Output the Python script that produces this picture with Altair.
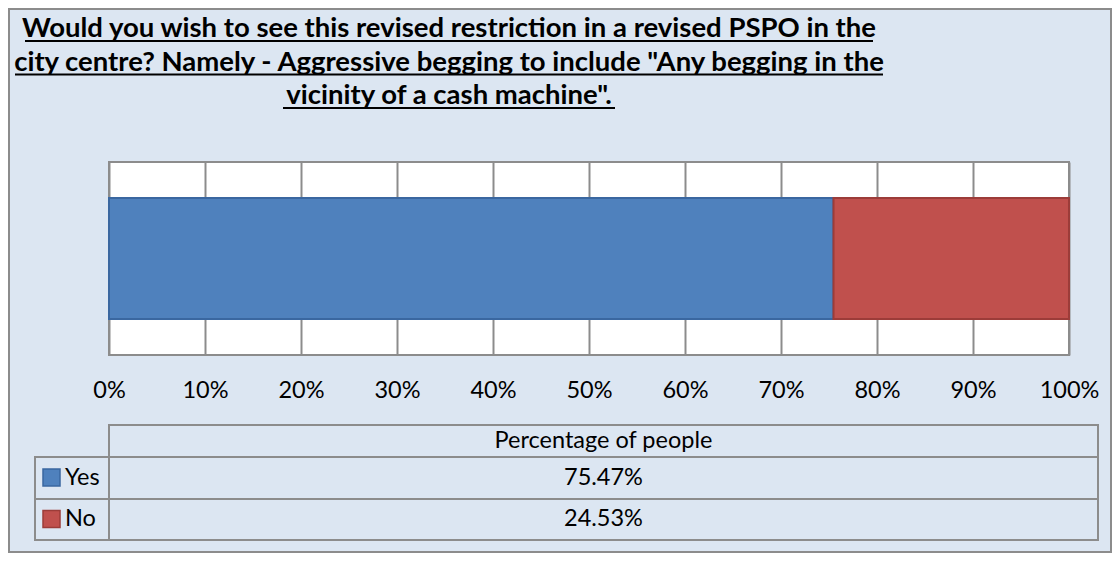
import altair as alt
import pandas as pd

# ---------------- data ----------------
title_lines = [
    "Would you wish to see this revised restriction in a revised PSPO in the",
    'city centre? Namely - Aggressive begging to include "Any begging in the',
    'vicinity of a cash machine".',
]
categories = ["Yes", "No"]
shares = [0.7547, 0.2453]
series_name = "Percentage of people"
tick_values = [0.0, 0.1, 0.2, 0.3, 0.4, 0.5, 0.6, 0.7, 0.8, 0.9, 1.0]

# ---------------- style ----------------
FILL = ["#4F81BD", "#C0504D"]
EDGE = ["#3A67A0", "#9C3C39"]
BG = "#DCE6F2"
LINE = "#8C8C8C"
FONT = "Lato"
FS = 23.5
PW, PH = 960, 193
PAD = {"left": 101, "top": 154, "right": 43, "bottom": 198}

df = pd.DataFrame({
    "category": categories,
    "share": shares,
    "order": list(range(len(categories))),
    "series": [series_name] * len(categories),
    "label": [f"{v * 100:.2f}%" for v in shares],
})
title_df = pd.DataFrame({"line": list(range(len(title_lines))), "text": title_lines})
one = alt.Data(values=[{"k": 0}])

color_scale = alt.Scale(domain=categories, range=FILL)
edge_scale = alt.Scale(domain=categories, range=EDGE)

# outer chart border
border = alt.Chart(one).mark_rect(fill="transparent", stroke=LINE, strokeWidth=2).encode(
    x=alt.value(-100), x2=alt.value(PW + PAD["right"] - 1),
    y=alt.value(-PAD["top"] + 1), y2=alt.value(PH + PAD["bottom"] - 1),
)

# title
title = alt.Chart(title_df).mark_text(
    font=FONT, fontSize=27.5, fontWeight="bold", color="#000000",
    align="center", baseline="alphabetic",
).encode(
    x=alt.value(340),
    y=alt.Y("line:O", scale=alt.Scale(range=[-125, -58], padding=0), axis=None),
    text="text:N",
)
underline_spans = [(-84, 764, -121), (-94, 774, -87.5), (174, 506, -54)]
underlines = [
    alt.Chart(one).mark_rule(color="#000000", strokeWidth=2).encode(
        x=alt.value(a), x2=alt.value(b), y=alt.value(yy)
    )
    for a, b, yy in underline_spans
]

# the stacked bar
bars = alt.Chart(df).mark_bar(strokeWidth=2).encode(
    x=alt.X(
        "share:Q", stack="zero",
        scale=alt.Scale(domain=[0, 1], nice=False),
        axis=alt.Axis(
            values=tick_values, format=".0%", title=None, grid=True,
            gridColor=LINE, gridWidth=2, domain=False, ticks=False, tickSize=0,
            labelFont=FONT, labelFontSize=FS, labelColor="#000000", labelPadding=23,
            labelFlush=False,
        ),
    ),
    y=alt.Y("series:N", axis=None, scale=alt.Scale(paddingOuter=0.2975, paddingInner=0)),
    order=alt.Order("order:Q"),
    color=alt.Color("category:N", scale=color_scale, legend=None),
    stroke=alt.Stroke("category:N", scale=edge_scale, legend=None),
)

# data table
rect_kw = dict(fill="transparent", stroke=LINE, strokeWidth=2)
header_cell = alt.Chart(one).mark_rect(**rect_kw).encode(
    x=alt.value(0), x2=alt.value(989), y=alt.value(263), y2=alt.value(295))
rows_box = alt.Chart(one).mark_rect(**rect_kw).encode(
    x=alt.value(-74), x2=alt.value(989), y=alt.value(295), y2=alt.value(378))
row_div = alt.Chart(one).mark_rule(color=LINE, strokeWidth=2).encode(
    x=alt.value(-74), x2=alt.value(989), y=alt.value(337))
col_div = alt.Chart(one).mark_rule(color=LINE, strokeWidth=2).encode(
    x=alt.value(0), y=alt.value(295), y2=alt.value(378))

header_text = alt.Chart(df).transform_aggregate(s="min(series)").mark_text(
    font=FONT, fontSize=FS, color="#000000", align="center", baseline="middle"
).encode(x=alt.value(494.5), y=alt.value(279), text="s:N")

row_y = alt.Y("category:N", sort=categories, axis=None,
              scale=alt.Scale(domain=categories, range=[315.5, 357], padding=0))

value_text = alt.Chart(df).mark_text(
    font=FONT, fontSize=FS, color="#000000", align="center", baseline="middle"
).encode(x=alt.value(494.5), y=row_y, text="label:N")

legend_sq = alt.Chart(df).mark_square(size=17 * 17, opacity=1, strokeWidth=1.5).encode(
    x=alt.value(-57.5), y=row_y,
    color=alt.Color("category:N", scale=color_scale, legend=None),
    stroke=alt.Stroke("category:N", scale=edge_scale, legend=None),
)
legend_txt = alt.Chart(df).mark_text(
    font=FONT, fontSize=FS, color="#000000", align="left", baseline="middle"
).encode(x=alt.value(-44), y=row_y, text="category:N")

chart = alt.layer(
    border, title, *underlines, bars,
    header_cell, rows_box, row_div, col_div,
    header_text, value_text, legend_sq, legend_txt,
).resolve_scale(y="independent").properties(
    width=PW, height=PH,
    autosize=alt.AutoSizeParams(type="none"),
    padding=PAD,
    background=BG,
).configure_view(
    fill="#FFFFFF", stroke=LINE, strokeWidth=2,
)

chart.save("out.html", embed_options={"renderer": "svg", "actions": False})
